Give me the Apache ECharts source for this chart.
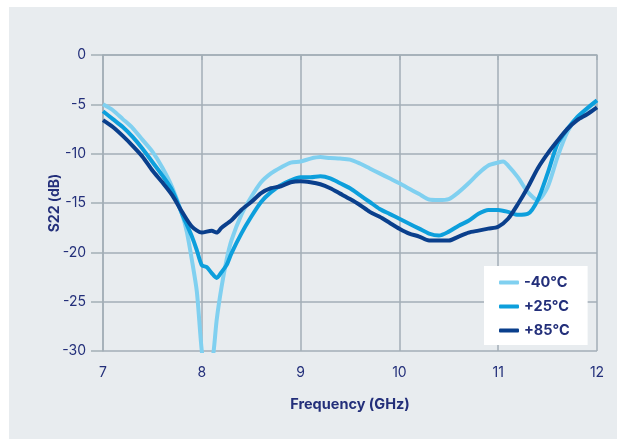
<!DOCTYPE html>
<html>
<head>
<meta charset="utf-8">
<script src="https://cdn.jsdelivr.net/npm/echarts@6/dist/echarts.min.js"></script>
<style>
html,body{margin:0;padding:0;background:#ffffff;}
#bg{position:absolute;left:9px;top:7px;right:0;bottom:0;background:#e8ecef;}
#chart{position:absolute;left:0;top:0;width:617px;height:439px;}
</style>
</head>
<body>
<div id="bg"></div>
<div id="chart"></div>
<script>
const seriesNames = ['-40°C', '+25°C', '+85°C'];
const xTicks = [7, 8, 9, 10, 11, 12];
const yTicks = [0, -5, -10, -15, -20, -25, -30];

const freqM40 = [7.0,7.1,7.2,7.3,7.4,7.5,7.6,7.7,7.8,7.85,7.9,7.95,8.0,8.06,8.12,8.15,8.2,8.25,8.3,8.4,8.5,8.6,8.7,8.8,8.9,9.0,9.1,9.2,9.3,9.4,9.5,9.6,9.7,9.8,9.9,10.0,10.1,10.2,10.3,10.4,10.5,10.6,10.7,10.8,10.9,11.0,11.05,11.1,11.2,11.3,11.4,11.5,11.6,11.7,11.8,11.9,12.0];
const s22M40 = [-5.0,-5.6,-6.5,-7.4,-8.6,-9.8,-11.4,-13.4,-16.1,-18.0,-20.8,-24.0,-30.0,-34.0,-30.0,-26.9,-23.5,-20.8,-18.8,-16.2,-14.4,-12.9,-12.0,-11.4,-10.9,-10.8,-10.5,-10.35,-10.45,-10.5,-10.6,-11.0,-11.5,-12.0,-12.5,-13.0,-13.55,-14.1,-14.65,-14.7,-14.6,-13.9,-13.0,-12.0,-11.2,-10.9,-10.8,-11.2,-12.4,-13.9,-14.7,-13.4,-10.35,-7.8,-6.3,-5.5,-4.6];

const freqP25 = [7.0,7.1,7.2,7.3,7.4,7.5,7.6,7.7,7.8,7.9,7.95,8.0,8.05,8.1,8.15,8.2,8.25,8.3,8.4,8.5,8.6,8.7,8.8,8.9,9.0,9.1,9.2,9.3,9.4,9.5,9.6,9.7,9.8,9.9,10.0,10.1,10.2,10.3,10.4,10.5,10.6,10.7,10.8,10.9,11.0,11.1,11.2,11.3,11.4,11.5,11.6,11.7,11.8,11.9,12.0];
const s22P25 = [-5.7,-6.5,-7.3,-8.3,-9.5,-10.85,-12.2,-13.7,-16.1,-18.4,-19.8,-21.3,-21.5,-22.1,-22.6,-22.0,-21.3,-20.1,-18.1,-16.4,-14.9,-13.9,-13.2,-12.7,-12.4,-12.4,-12.3,-12.5,-13.0,-13.5,-14.2,-14.9,-15.6,-16.1,-16.6,-17.1,-17.6,-18.1,-18.3,-17.9,-17.3,-16.8,-16.1,-15.7,-15.7,-15.9,-16.2,-16.1,-14.7,-12.0,-9.0,-7.5,-6.3,-5.4,-4.6];

const freqP85 = [7.0,7.1,7.2,7.3,7.4,7.5,7.6,7.7,7.8,7.9,8.0,8.1,8.15,8.2,8.3,8.4,8.5,8.6,8.7,8.8,8.9,9.0,9.1,9.2,9.3,9.4,9.5,9.6,9.7,9.8,9.9,10.0,10.1,10.2,10.3,10.4,10.5,10.6,10.7,10.8,10.9,11.0,11.1,11.2,11.3,11.4,11.5,11.6,11.7,11.8,11.9,12.0];
const s22P85 = [-6.6,-7.3,-8.2,-9.2,-10.3,-11.7,-12.9,-14.2,-15.9,-17.4,-18.0,-17.8,-18.0,-17.5,-16.75,-15.7,-14.9,-14.0,-13.5,-13.3,-12.9,-12.8,-12.9,-13.1,-13.5,-14.05,-14.6,-15.2,-15.9,-16.4,-17.0,-17.6,-18.1,-18.4,-18.8,-18.8,-18.8,-18.4,-18.0,-17.8,-17.6,-17.4,-16.6,-15.1,-13.4,-11.5,-10.0,-8.7,-7.5,-6.6,-6.0,-5.3];

const colors = ['#80d0f0', '#0d9fdc', '#0a3f8c'];
const textColor = '#232f7a';
const gridColor = '#a3aeb7';
const fontFam = 'Inter, "Noto Sans", sans-serif';

function pairs(xs, ys){ return xs.map((x,i)=>[x, ys[i]]); }

const chart = echarts.init(document.getElementById('chart'), null, {renderer:'canvas'});
chart.setOption({
  backgroundColor: 'transparent',
  animation: false,
  color: colors,
  grid: {left: 103, right: 20, top: 55, bottom: 88, containLabel: false},
  legend: {
    orient: 'vertical',
    left: 484, top: 266,
    backgroundColor: '#ffffff',
    padding: [9, 18, 7, 15],
    itemWidth: 20, itemHeight: 4, itemGap: 9, itemTextGap: 8,
    icon: 'roundRect',
    textStyle: {color: textColor, fontSize: 14.5, fontWeight: 'bold', fontFamily: fontFam, lineHeight: 14.5},
    data: seriesNames
  },
  xAxis: {
    type: 'value', min: 7, max: 12, interval: 1,
    name: 'Frequency (GHz)', nameLocation: 'middle', nameGap: 46,
    nameMoveOverlap: false,
    nameTextStyle: {color: textColor, fontSize: 14.5, fontWeight: 'bold', fontFamily: fontFam},
    axisLine: {show: true, lineStyle: {color: gridColor, width: 1.5}},
    axisTick: {show: true, length: 5, lineStyle: {color: gridColor, width: 1.5}},
    axisLabel: {color: textColor, fontSize: 14, fontFamily: fontFam, margin: 15,
      formatter: v => xTicks.includes(v) ? String(v) : ''},
    splitLine: {show: true, lineStyle: {color: gridColor, width: 1.5}}
  },
  yAxis: {
    type: 'value', min: -30, max: 0, interval: 5,
    name: 'S22 (dB)', nameLocation: 'middle', nameGap: 41, nameRotate: 90,
    nameMoveOverlap: false,
    nameTextStyle: {color: textColor, fontSize: 14, fontWeight: 'bold', fontFamily: fontFam},
    axisLine: {show: true, lineStyle: {color: gridColor, width: 1.5}},
    axisTick: {show: true, length: 12, lineStyle: {color: gridColor, width: 1.5}},
    axisLabel: {color: textColor, fontSize: 14, fontFamily: fontFam, margin: 17,
      formatter: v => yTicks.includes(v) ? String(v) : ''},
    splitLine: {show: true, lineStyle: {color: gridColor, width: 1.5}}
  },
  series: [
    {name: seriesNames[0], type: 'line', data: pairs(freqM40, s22M40), showSymbol: false, smooth: 0.25, clip: true, lineStyle: {width: 4}},
    {name: seriesNames[1], type: 'line', data: pairs(freqP25, s22P25), showSymbol: false, smooth: 0.25, clip: true, lineStyle: {width: 4}},
    {name: seriesNames[2], type: 'line', data: pairs(freqP85, s22P85), showSymbol: false, smooth: 0.25, clip: true, lineStyle: {width: 4}}
  ]
});
</script>
</body>
</html>
